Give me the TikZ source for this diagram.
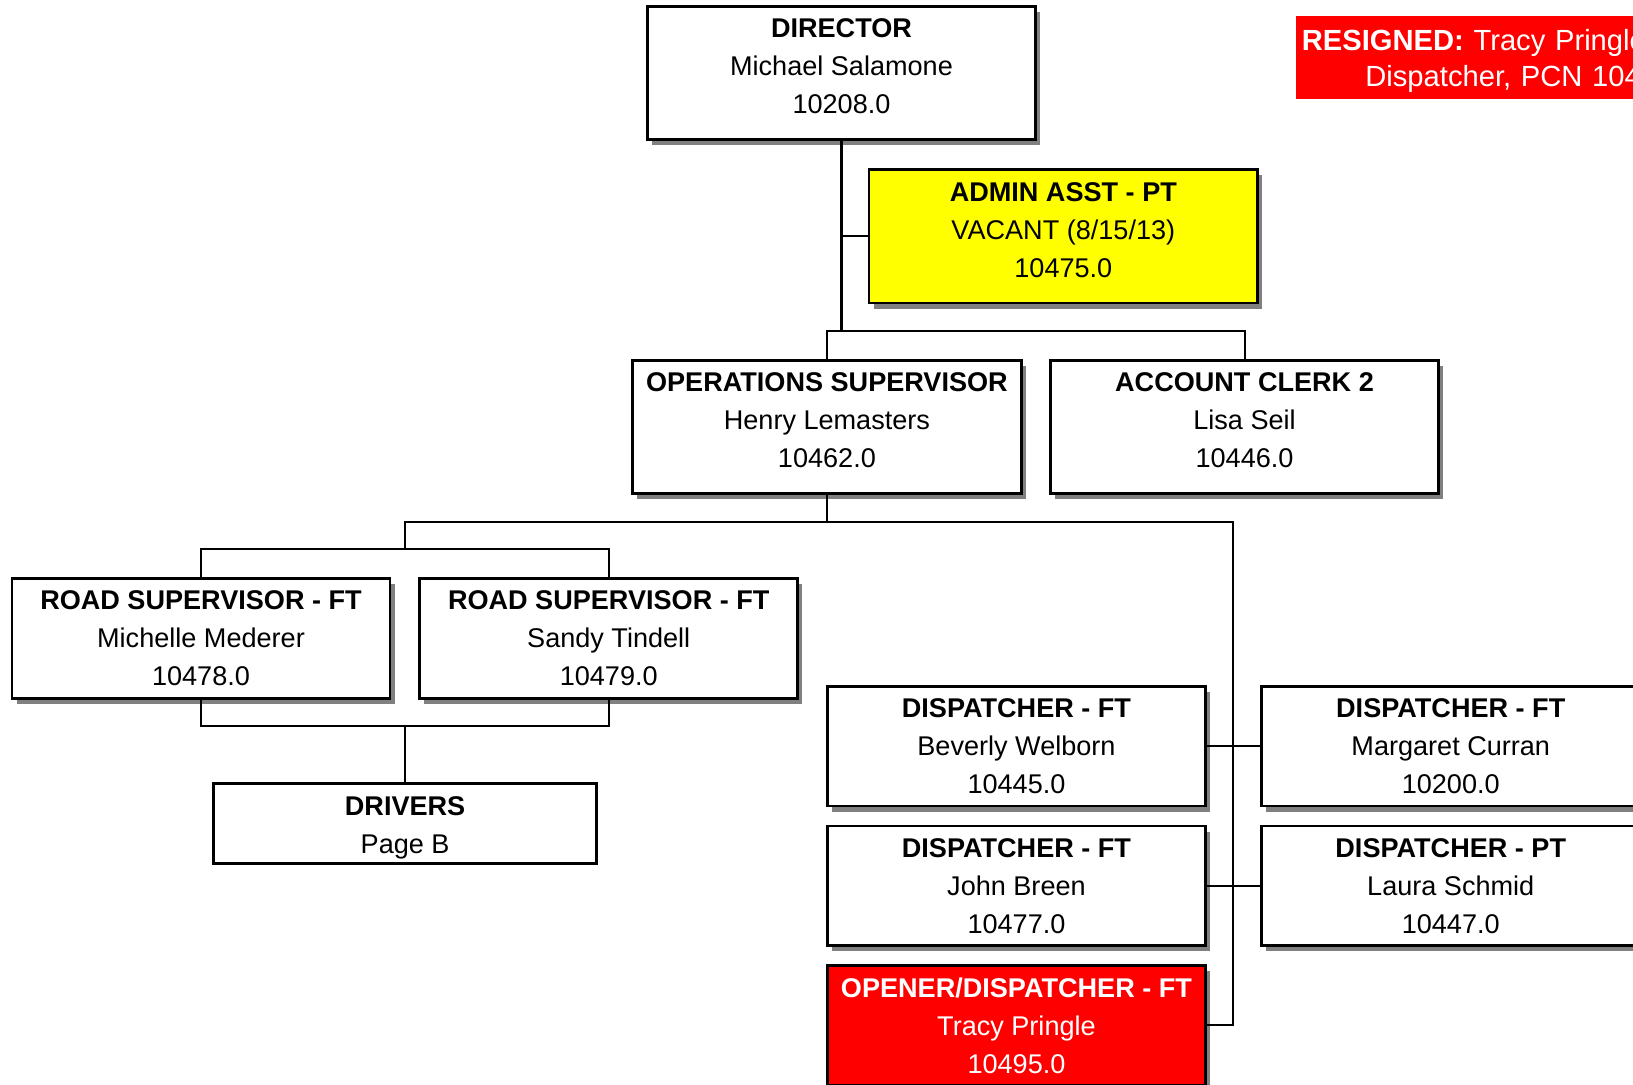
\documentclass[tikz,border=0pt]{standalone}
\usepackage{fontspec}
\setmainfont{Liberation Sans}
\usetikzlibrary{shadows}
\definecolor{boxshadow}{HTML}{808080}
\definecolor{vacant}{HTML}{FFFF00}
\definecolor{resigned}{HTML}{FF0000}
\newcommand{\tallpad}{\rule[-6.5pt]{0pt}{6.5pt}}

\begin{document}
\begin{tikzpicture}[x=0.5pt, y=-0.5pt, line width=1pt]
\useasboundingbox (0,0) rectangle (1568,1041);

\tikzstyle{every node}=[rectangle, draw=black, line width=1.3pt, fill=white, align=center, inner sep=0pt,
  font=\fontsize{13}{18.25}\selectfont, minimum width=186.5pt, minimum height=64pt,
  drop shadow={shadow xshift=2.2pt, shadow yshift=-2.7pt, fill=boxshadow, opacity=1}]
\draw (808, 70)   node (dir)  {\textbf{DIRECTOR}\\Michael Salamone\\10208.0\tallpad}
      (794, 410)  node (ops)  {\textbf{OPERATIONS SUPERVISOR}\\Henry Lemasters\\10462.0\tallpad}
      (1195, 410) node (acct) {\textbf{ACCOUNT CLERK 2}\\Lisa Seil\\10446.0\tallpad};
\draw (1021, 227) node[fill=vacant] (admin) {\textbf{ADMIN ASST - PT}\\VACANT (8/15/13)\\10475.0\tallpad};

\tikzstyle{every node}=[rectangle, draw=black, line width=1.3pt, fill=white, align=center, inner sep=0pt,
  font=\fontsize{13}{18.25}\selectfont, minimum width=181.5pt, minimum height=57.5pt,
  drop shadow={shadow xshift=2.2pt, shadow yshift=-2.7pt, fill=boxshadow, opacity=1}]
\draw (193, 613)    node (road1)  {\textbf{ROAD SUPERVISOR - FT}\\Michelle Mederer\\10478.0}
      (584.5, 613)  node (road2)  {\textbf{ROAD SUPERVISOR - FT}\\Sandy Tindell\\10479.0}
      (976, 716.5)  node (disp1)  {\textbf{DISPATCHER - FT}\\Beverly Welborn\\10445.0}
      (1393, 716.5) node (disp2)  {\textbf{DISPATCHER - FT}\\Margaret Curran\\10200.0}
      (976, 850.5)  node (disp3)  {\textbf{DISPATCHER - FT}\\John Breen\\10477.0}
      (1393, 850.5) node (disp4)  {\textbf{DISPATCHER - PT}\\Laura Schmid\\10447.0};
\draw (976, 984.5) node[fill=resigned, text=white] (opener) {\textbf{OPENER/DISPATCHER - FT}\\Tracy Pringle\\10495.0};

\tikzstyle{every node}=[rectangle, draw=black, line width=1.3pt, fill=white, align=center, inner sep=0pt,
  font=\fontsize{13}{18.25}\selectfont, minimum width=184pt, minimum height=38.5pt]
\draw (389, 790.5) node (drivers) {\rule{0pt}{13.3pt}\textbf{DRIVERS}\\Page B};

\tikzstyle{every node}=[rectangle, draw=none, fill=resigned, text=white, align=left, inner xsep=3pt,
  text width=190pt, minimum height=38.5pt, font=\fontsize{14}{17}\selectfont]
\draw (1243, 55.5) node[anchor=west] (note) {\rule{0pt}{13.2pt}\textbf{RESIGNED:} Tracy Pringle\\\hspace*{30.5pt}Dispatcher, PCN 10495};

\tikzstyle{every node}=[]
\coordinate (j1) at (808, 318);
\coordinate (j2) at (794, 501);
\coordinate (j3) at (389, 527);
\coordinate (j4) at (1184, 984.5);
\coordinate (j5) at (389, 697);

\draw (dir) -- (j1);
\draw (admin.west) -- (admin.west -| dir.south);
\draw (ops.north) |- (j1) -| (acct.north);
\draw (ops) -- (j2);
\draw (road1.north) |- (j3) -| (road2.north);
\draw (j3) |- (j2) -| (j4) -- (opener.east);
\draw (disp1.east) -- (disp2.west);
\draw (disp3.east) -- (disp4.west);
\draw (road1.south) |- (j5) -| (road2.south);
\draw (j5) -- (drivers.north);

\end{tikzpicture}
\end{document}
